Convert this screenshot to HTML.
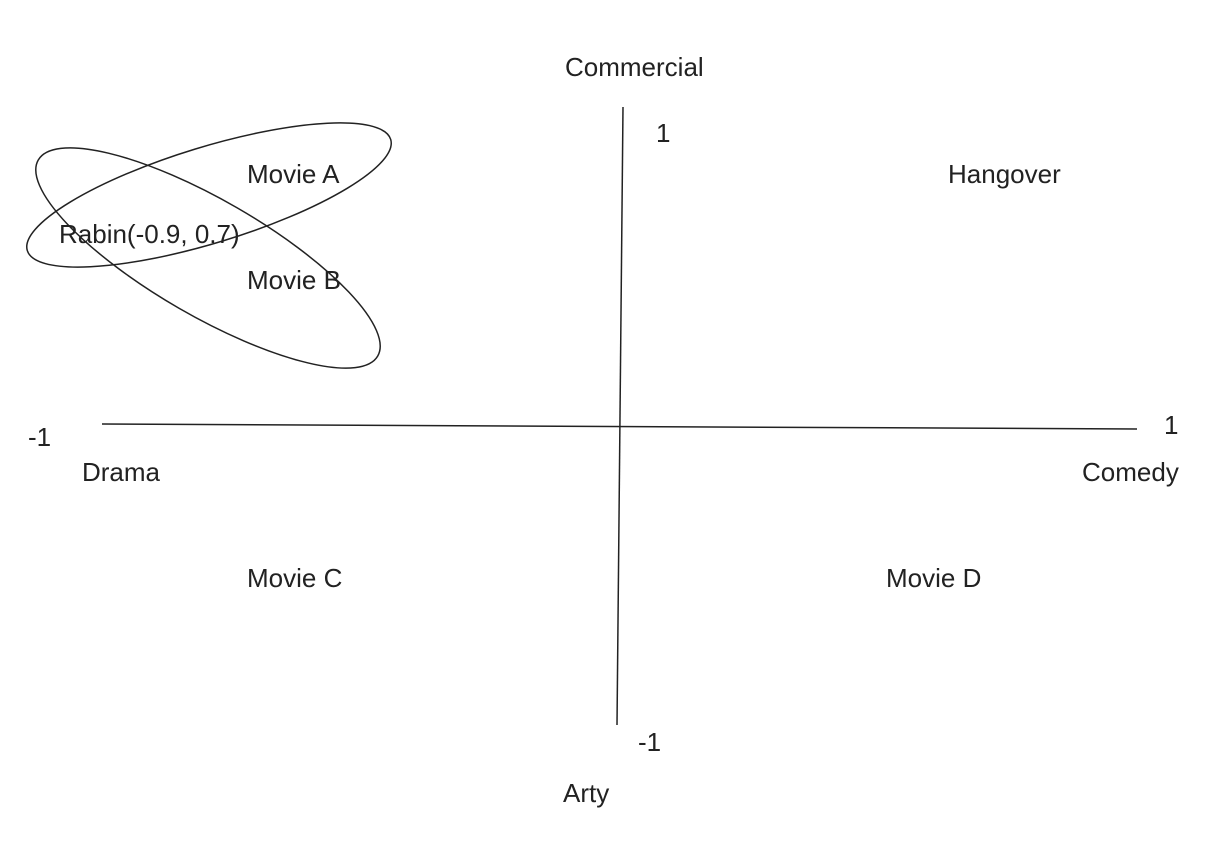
<!DOCTYPE html>
<html><head><style>
body{margin:0;background:#fff}
svg text{font-family:"Liberation Sans",sans-serif;font-size:26px;fill:#222}
</style></head><body>
<svg width="1208" height="850" viewBox="0 0 1208 850">
<g stroke="#222" stroke-width="1.5" fill="none">
<line x1="102" y1="424" x2="1137" y2="429"/>
<line x1="623" y1="107" x2="617" y2="725"/>
<ellipse cx="209" cy="195" rx="190" ry="48" transform="rotate(-17 209 195)"/>
<ellipse cx="208" cy="258" rx="196" ry="58" transform="rotate(30 208 258)"/>
</g>
<text x="565" y="76">Commercial</text>
<text x="656" y="142">1</text>
<text x="948" y="183">Hangover</text>
<text x="247" y="183">Movie A</text>
<text x="59" y="243">Rabin(-0.9, 0.7)</text>
<text x="247" y="289">Movie B</text>
<text x="28" y="446">-1</text>
<text x="1164" y="434">1</text>
<text x="82" y="481">Drama</text>
<text x="1082" y="481">Comedy</text>
<text x="247" y="587">Movie C</text>
<text x="886" y="587">Movie D</text>
<text x="638" y="751">-1</text>
<text x="563" y="802">Arty</text>
</svg>
</body></html>
